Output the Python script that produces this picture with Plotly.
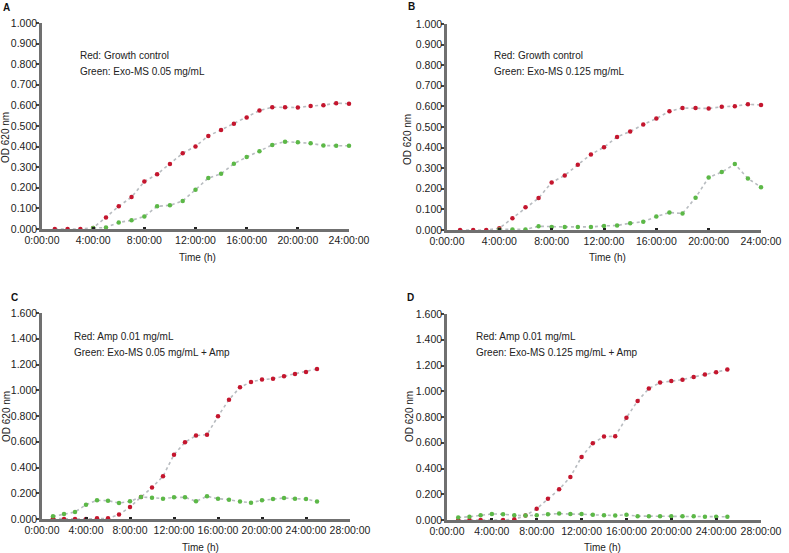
import plotly.graph_objects as go

W, H = 789, 553

# ---------------- data ----------------
hours_ab = [1, 2, 3, 4, 5, 6, 7, 8, 9, 10, 11, 12, 13, 14, 15, 16, 17, 18, 19, 20, 21, 22, 23, 24]
hours_ab_green = [4, 5, 6, 7, 8, 9, 10, 11, 12, 13, 14, 15, 16, 17, 18, 19, 20, 21, 22, 23, 24]
hours_cd = [1, 2, 3, 4, 5, 6, 7, 8, 9, 10, 11, 12, 13, 14, 15, 16, 17, 18, 19, 20, 21, 22, 23, 24, 25]

red_a = [0.0, 0.0, 0.0, 0.005, 0.056, 0.11, 0.155, 0.23, 0.266, 0.316, 0.368, 0.401, 0.452,
         0.481, 0.511, 0.541, 0.575, 0.591, 0.591, 0.590, 0.597, 0.601, 0.611, 0.608]
green_a = [0.005, 0.007, 0.032, 0.042, 0.061, 0.11, 0.115, 0.136, 0.191, 0.247, 0.268, 0.317,
           0.349, 0.377, 0.408, 0.424, 0.421, 0.416, 0.405, 0.404, 0.404]

red_b = [0.0, 0.0, 0.0, 0.008, 0.057, 0.11, 0.155, 0.231, 0.265, 0.317, 0.367, 0.402, 0.452,
         0.478, 0.512, 0.541, 0.576, 0.592, 0.592, 0.590, 0.598, 0.601, 0.610, 0.607]
green_b = [0.003, 0.003, 0.003, 0.018, 0.015, 0.015, 0.015, 0.015, 0.02, 0.022, 0.033, 0.04,
           0.065, 0.085, 0.08, 0.157, 0.255, 0.281, 0.32, 0.25, 0.208]

red_c = [0.005, 0.0, 0.0, 0.0, 0.005, 0.005, 0.034, 0.093, 0.171, 0.244, 0.332, 0.5, 0.596,
         0.648, 0.655, 0.798, 0.927, 1.023, 1.065, 1.083, 1.09, 1.109, 1.127, 1.142, 1.166]
green_c = [0.021, 0.039, 0.054, 0.111, 0.145, 0.142, 0.124, 0.137, 0.171, 0.166, 0.158, 0.168,
           0.168, 0.137, 0.176, 0.158, 0.15, 0.135, 0.127, 0.145, 0.155, 0.163, 0.158, 0.155, 0.135]

red_d = [0.0, 0.0, 0.0, -0.003, 0.0, 0.005, 0.034, 0.088, 0.166, 0.238, 0.334, 0.49, 0.596,
         0.648, 0.65, 0.795, 0.925, 1.021, 1.067, 1.08, 1.09, 1.111, 1.13, 1.148, 1.168]
green_d = [0.02, 0.025, 0.036, 0.047, 0.045, 0.036, 0.035, 0.036, 0.045, 0.05, 0.046, 0.046,
           0.04, 0.036, 0.035, 0.04, 0.03, 0.03, 0.03, 0.03, 0.03, 0.03, 0.026, 0.026, 0.025]

x_tickvals_ab = [0, 4, 8, 12, 16, 20, 24]
x_ticktext_ab = ["0:00:00", "4:00:00", "8:00:00", "12:00:00", "16:00:00", "20:00:00", "24:00:00"]
x_tickvals_cd = [0, 4, 8, 12, 16, 20, 24, 28]
x_ticktext_cd = ["0:00:00", "4:00:00", "8:00:00", "12:00:00", "16:00:00", "20:00:00", "24:00:00", "28:00:00"]

panel_letters = ["A", "B", "C", "D"]
legend_red = ["Red: Growth control", "Red: Growth control", "Red: Amp 0.01 mg/mL", "Red: Amp 0.01 mg/mL"]
legend_green = ["Green: Exo-MS 0.05 mg/mL", "Green: Exo-MS 0.125 mg/mL",
                "Green: Exo-MS 0.05 mg/mL + Amp", "Green: Exo-MS 0.125 mg/mL + Amp"]

# ---------------- layout helpers ----------------
RED = "#c4162e"
GREEN = "#5cb847"
LINE = "#b8bcc0"
AX = "#707070"
FONT = "Liberation Sans, Arial, sans-serif"

def px(x):
    return x / W

def py(y):
    return 1 - y / H

# pixel boxes in screen coords: (left, right, top, bottom)
boxes = [
    (42, 349, 23, 229),
    (447, 761, 24, 230),
    (42, 350, 313, 519),
    (447, 761, 314, 520),
]

fig = go.Figure()

series = [
    (hours_ab, red_a, hours_ab_green, green_a),
    (hours_ab, red_b, hours_ab_green, green_b),
    (hours_cd, red_c, hours_cd, green_c),
    (hours_cd, red_d, hours_cd, green_d),
]

for i, (xr, yr, xg, yg) in enumerate(series):
    n = "" if i == 0 else str(i + 1)
    for xs, ys, col in [(xr, yr, RED), (xg, yg, GREEN)]:
        fig.add_trace(go.Scatter(
            x=xs, y=ys, mode="lines+markers",
            line=dict(color=LINE, width=1.6, dash="dot"),
            marker=dict(color=col, size=4.5),
            cliponaxis=False, showlegend=False, hoverinfo="skip",
            xaxis="x" + n, yaxis="y" + n,
        ))

axis_common = dict(
    showgrid=False, zeroline=False, showline=True, linecolor=AX, linewidth=2.5,
    tickfont=dict(family=FONT, size=10.5, color="#222"), automargin=False, tickangle=0,
)

layout = dict(
    width=W, height=H, margin=dict(l=0, r=0, t=0, b=0),
    paper_bgcolor="white", plot_bgcolor="white",
    font=dict(family=FONT, size=10, color="#222"),
    annotations=[],
)

for i, (l, r, t, b) in enumerate(boxes):
    n = "" if i == 0 else str(i + 1)
    if i < 2:
        xr, tv, tt = [0, 24], x_tickvals_ab, x_ticktext_ab
        yr, ydt = [0, 1.0], 0.1
    else:
        xr, tv, tt = [0, 28], x_tickvals_cd, x_ticktext_cd
        yr, ydt = [0, 1.6], 0.2
    layout["xaxis" + n] = dict(
        axis_common, domain=[px(l), px(r)], range=xr, tickvals=tv, ticktext=tt,
        ticks="inside", ticklen=2, tickwidth=3, tickcolor="#222",
        anchor="y" + n, fixedrange=True,
    )
    layout["yaxis" + n] = dict(
        axis_common, domain=[py(b), py(t)], range=yr, dtick=ydt, tick0=0,
        tickformat=".3f", ticks="outside", ticklen=3, tickwidth=1.5, tickcolor="#444",
        ticklabelstandoff=-3,
        anchor="x" + n, fixedrange=True,
    )

# text annotations (screen pixel coords)
letter_pos = [(6, 8), (412, 6), (14, 297), (410, 297)]
legend_pos = [(78, 56, 72), (492, 56, 72), (72, 336, 352), (474, 336, 352)]
ytitle_pos = [(6, 138), (407, 140), (6, 417), (409, 417)]
xtitle_pos = [(197, 257), (607, 257), (200, 547), (602, 547)]

for i in range(4):
    lx, ly = letter_pos[i]
    layout["annotations"].append(dict(
        text="<b>" + panel_letters[i] + "</b>", x=px(lx), y=py(ly), xref="paper", yref="paper",
        xanchor="center", yanchor="middle", showarrow=False, font=dict(size=10, color="#111")))
    gx, gy1, gy2 = legend_pos[i]
    layout["annotations"].append(dict(
        text=legend_red[i], x=px(gx), y=py(gy1), xref="paper", yref="paper",
        xanchor="left", yanchor="middle", showarrow=False, font=dict(size=10, color="#222")))
    layout["annotations"].append(dict(
        text=legend_green[i], x=px(gx), y=py(gy2), xref="paper", yref="paper",
        xanchor="left", yanchor="middle", showarrow=False, font=dict(size=10, color="#222")))
    tx, ty = ytitle_pos[i]
    layout["annotations"].append(dict(
        text="OD 620 nm", x=px(tx), y=py(ty), xref="paper", yref="paper", textangle=-90,
        xanchor="center", yanchor="middle", showarrow=False, font=dict(size=10, color="#222")))
    xx, xy = xtitle_pos[i]
    layout["annotations"].append(dict(
        text="Time (h)", x=px(xx), y=py(xy), xref="paper", yref="paper",
        xanchor="center", yanchor="middle", showarrow=False, font=dict(size=10, color="#222")))

fig.update_layout(**layout)
# remove the page's default body margin so the figure starts at the window's corner
fig.write_html("out.html", config={"displayModeBar": False},
               post_script="document.body.style.margin='0';document.body.style.overflow='hidden';")
